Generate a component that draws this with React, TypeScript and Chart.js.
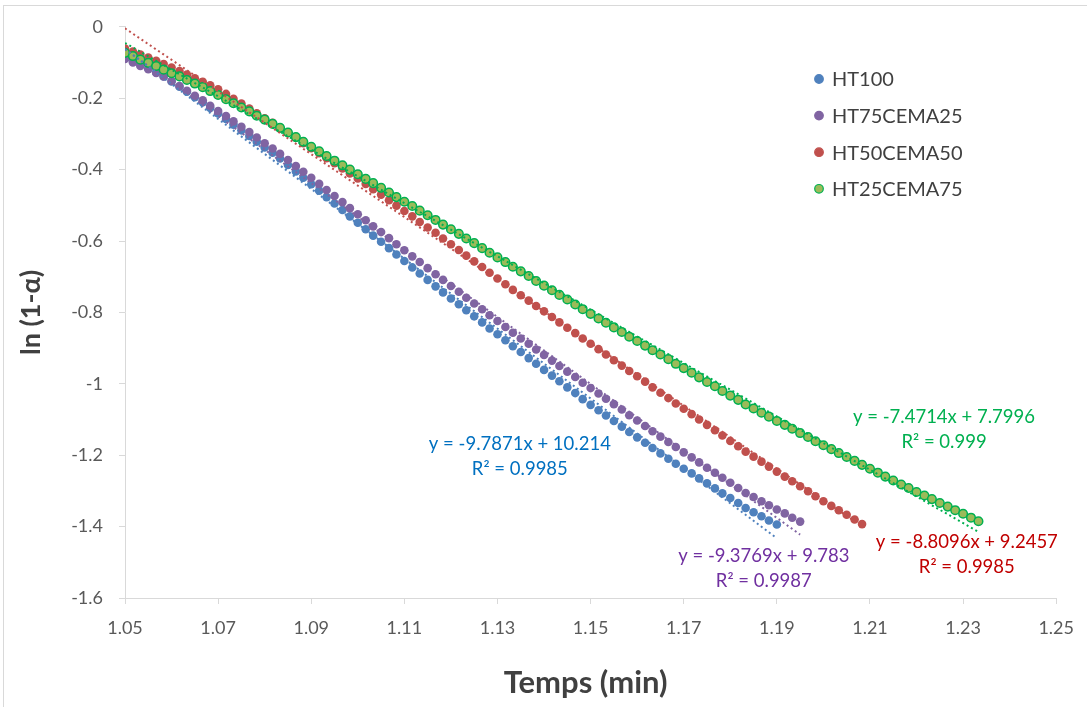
import React, { useEffect, useRef } from "react";
import { Chart, registerables } from "chart.js";

Chart.register(...registerables);

// ---------- DATA ----------
const TIME = [
  1.05, 1.0517, 1.0533, 1.055, 1.0567, 1.0583,
  1.06, 1.0617, 1.0633, 1.065, 1.0667, 1.0683,
  1.07, 1.0717, 1.0733, 1.075, 1.0767, 1.0783,
  1.08, 1.0817, 1.0833, 1.085, 1.0867, 1.0883,
  1.09, 1.0917, 1.0933, 1.095, 1.0967, 1.0983,
  1.1, 1.1017, 1.1033, 1.105, 1.1067, 1.1083,
  1.11, 1.1117, 1.1133, 1.115, 1.1167, 1.1183,
  1.12, 1.1217, 1.1233, 1.125, 1.1267, 1.1283,
  1.13, 1.1317, 1.1333, 1.135, 1.1367, 1.1383,
  1.14, 1.1417, 1.1433, 1.145, 1.1467, 1.1483,
  1.15, 1.1517, 1.1533, 1.155, 1.1567, 1.1583,
  1.16, 1.1617, 1.1633, 1.165, 1.1667, 1.1683,
  1.17, 1.1717, 1.1733, 1.175, 1.1767, 1.1783,
  1.18, 1.1817, 1.1833, 1.185, 1.1867, 1.1883,
  1.19, 1.1917, 1.1933, 1.195, 1.1967, 1.1983,
  1.2, 1.2017, 1.2033, 1.205, 1.2067, 1.2083,
  1.21, 1.2117, 1.2133, 1.215, 1.2167, 1.2183,
  1.22, 1.2217, 1.2233, 1.225, 1.2267, 1.2283,
  1.23, 1.2317, 1.2333,
];

const SERIES_NAMES = ["HT100", "HT75CEMA25", "HT50CEMA50", "HT25CEMA75"];

const HT100 = [
  -0.085, -0.096, -0.106, -0.117, -0.128, -0.139, -0.153, -0.168, -0.182, -0.197,
  -0.211, -0.227, -0.243, -0.258, -0.274, -0.290, -0.306, -0.322, -0.338, -0.353,
  -0.369, -0.387, -0.405, -0.423, -0.441, -0.459, -0.477, -0.495, -0.513, -0.531,
  -0.549, -0.567, -0.585, -0.602, -0.620, -0.638, -0.656, -0.674, -0.691, -0.709,
  -0.727, -0.744, -0.761, -0.777, -0.794, -0.811, -0.828, -0.845, -0.861, -0.878,
  -0.895, -0.911, -0.928, -0.944, -0.961, -0.977, -0.993, -1.010, -1.026, -1.043,
  -1.059, -1.074, -1.089, -1.104, -1.120, -1.135, -1.150, -1.165, -1.180, -1.195,
  -1.210, -1.224, -1.238, -1.251, -1.265, -1.279, -1.293, -1.307, -1.320, -1.334,
  -1.348, -1.360, -1.371, -1.383, -1.394,
];

const HT75CEMA25 = [
  -0.090, -0.100, -0.110, -0.119, -0.129, -0.139, -0.152, -0.166, -0.179, -0.193,
  -0.206, -0.221, -0.236, -0.250, -0.265, -0.280, -0.295, -0.310, -0.326, -0.341,
  -0.356, -0.373, -0.390, -0.406, -0.423, -0.440, -0.457, -0.474, -0.491, -0.508,
  -0.525, -0.542, -0.559, -0.575, -0.592, -0.609, -0.626, -0.643, -0.659, -0.676,
  -0.693, -0.709, -0.726, -0.742, -0.759, -0.775, -0.791, -0.808, -0.824, -0.841,
  -0.857, -0.873, -0.888, -0.904, -0.919, -0.935, -0.950, -0.966, -0.981, -0.997,
  -1.012, -1.027, -1.042, -1.057, -1.072, -1.088, -1.103, -1.118, -1.133, -1.148,
  -1.163, -1.177, -1.192, -1.206, -1.220, -1.235, -1.249, -1.263, -1.277, -1.292,
  -1.306, -1.317, -1.329, -1.340, -1.352, -1.363, -1.375, -1.386,
];

const HT50CEMA50 = [
  -0.061, -0.069, -0.078, -0.086, -0.095, -0.104, -0.114, -0.124, -0.134, -0.144,
  -0.154, -0.164, -0.175, -0.188, -0.202, -0.215, -0.229, -0.242, -0.256, -0.269,
  -0.283, -0.297, -0.311, -0.326, -0.340, -0.354, -0.368, -0.382, -0.397, -0.411,
  -0.425, -0.440, -0.455, -0.470, -0.486, -0.501, -0.516, -0.531, -0.547, -0.562,
  -0.577, -0.593, -0.609, -0.625, -0.641, -0.657, -0.673, -0.689, -0.705, -0.721,
  -0.737, -0.752, -0.767, -0.782, -0.797, -0.813, -0.828, -0.843, -0.858, -0.873,
  -0.888, -0.903, -0.918, -0.934, -0.949, -0.964, -0.979, -0.994, -1.010, -1.025,
  -1.040, -1.055, -1.070, -1.085, -1.100, -1.115, -1.130, -1.145, -1.160, -1.175,
  -1.190, -1.204, -1.218, -1.232, -1.246, -1.260, -1.273, -1.287, -1.301, -1.315,
  -1.329, -1.342, -1.354, -1.367, -1.380, -1.393,
];

const HT25CEMA75 = [
  -0.073, -0.082, -0.092, -0.101, -0.110, -0.120, -0.130, -0.139, -0.149, -0.159,
  -0.169, -0.180, -0.191, -0.203, -0.214, -0.226, -0.237, -0.249, -0.260, -0.272,
  -0.283, -0.296, -0.309, -0.322, -0.336, -0.349, -0.362, -0.375, -0.388, -0.400,
  -0.413, -0.426, -0.438, -0.451, -0.464, -0.477, -0.490, -0.502, -0.515, -0.528,
  -0.541, -0.554, -0.567, -0.580, -0.593, -0.606, -0.620, -0.633, -0.646, -0.659,
  -0.672, -0.685, -0.698, -0.712, -0.725, -0.738, -0.751, -0.764, -0.778, -0.791,
  -0.804, -0.817, -0.829, -0.842, -0.855, -0.868, -0.880, -0.893, -0.906, -0.918,
  -0.931, -0.944, -0.956, -0.969, -0.982, -0.995, -1.007, -1.020, -1.033, -1.045,
  -1.058, -1.069, -1.081, -1.092, -1.104, -1.115, -1.126, -1.138, -1.149, -1.161,
  -1.172, -1.183, -1.194, -1.205, -1.216, -1.227, -1.238, -1.249, -1.260, -1.271,
  -1.282, -1.292, -1.303, -1.313, -1.323, -1.334, -1.344, -1.354, -1.364, -1.375,
  -1.385,
];

// Linear trend lines (as printed on the chart)
const SLOPES = [-9.7871, -9.3769, -8.8096, -7.4714];
const INTERCEPTS = [10.214, 9.783, 9.2457, 7.7996];
const EQUATIONS = [
  "y = -9.7871x + 10.214",
  "y = -9.3769x + 9.783",
  "y = -8.8096x + 9.2457",
  "y = -7.4714x + 7.7996",
];
const R2_TEXT = ["R² = 0.9985", "R² = 0.9987", "R² = 0.9985", "R² = 0.999"];

const X_TICKS = [1.05, 1.07, 1.09, 1.11, 1.13, 1.15, 1.17, 1.19, 1.21, 1.23, 1.25];
const Y_TICKS = [0, -0.2, -0.4, -0.6, -0.8, -1, -1.2, -1.4, -1.6];

// ---------- STYLE ----------
const W = 1087;
const H = 707;
const FONT = "Lato, 'Open Sans', sans-serif";
const POINT_FILL = ["#4f81bd", "#8064a2", "#c0504d", "#9bbb59"];
const POINT_BORDER = ["#4f81bd", "#8064a2", "#c0504d", "#00b050"];
const TREND_COLOR = ["#4f81bd", "#8064a2", "#c0504d", "#00b050"];
const EQ_COLOR = ["#0070c0", "#7030a0", "#c00000", "#00b050"];
// equation label anchors (data coordinates of first line centre)
const EQ_POS = [
  { x: 1.1348, y: -1.1694 },
  { x: 1.1872, y: -1.4833 },
  { x: 1.2308, y: -1.4444 },
  { x: 1.2259, y: -1.0917 },
];

const SERIES = [HT100, HT75CEMA25, HT50CEMA50, HT25CEMA75];

const decorPlugin = {
  id: "decor",
  beforeDraw(chart: any) {
    const ctx = chart.ctx;
    ctx.save();
    ctx.fillStyle = "#ffffff";
    ctx.fillRect(0, 0, chart.width, chart.height);
    ctx.strokeStyle = "#d9d9d9";
    ctx.lineWidth = 1;
    ctx.strokeRect(3.5, 5.5, chart.width + 20, chart.height + 20);
    ctx.restore();
  },
  afterDraw(chart: any) {
    const ctx = chart.ctx;
    const xs = chart.scales.x;
    const ys = chart.scales.y;
    const area = chart.chartArea;
    ctx.save();
    // axis titles
    ctx.fillStyle = "#404040";
    ctx.textAlign = "center";
    ctx.textBaseline = "middle";
    ctx.font = `bold 31px ${FONT}`;
    ctx.fillText("Temps (min)", (area.left + area.right) / 2 - 5, 683);
    ctx.save();
    ctx.translate(31, (area.top + area.bottom) / 2);
    ctx.rotate(-Math.PI / 2);
    ctx.font = `bold 27px ${FONT}`;
    ctx.fillText("ln (1-α)", 0, 0);
    ctx.restore();

    // legend
    ctx.textAlign = "left";
    ctx.font = `20px ${FONT}`;
    SERIES_NAMES.forEach((name, k) => {
      const y = 79 + k * 36.6;
      ctx.beginPath();
      ctx.arc(819, y, 4.3, 0, Math.PI * 2);
      ctx.fillStyle = POINT_FILL[k];
      ctx.fill();
      ctx.lineWidth = 1.2;
      ctx.strokeStyle = POINT_BORDER[k];
      ctx.stroke();
      ctx.fillStyle = "#404040";
      ctx.fillText(name, 832, y + 1);
    });

    // equations
    ctx.textAlign = "center";
    ctx.font = `18.5px ${FONT}`;
    EQ_POS.forEach((p, k) => {
      const px = xs.getPixelForValue(p.x);
      const py = ys.getPixelForValue(p.y);
      ctx.fillStyle = EQ_COLOR[k];
      ctx.fillText(EQUATIONS[k], px, py);
      ctx.fillText(R2_TEXT[k], px, py + 25);
    });
    ctx.restore();
  },
};

export default function App() {
  const canvasRef = useRef<HTMLCanvasElement | null>(null);

  useEffect(() => {
    document.body.style.margin = "0";
    const canvas = canvasRef.current;
    if (!canvas) return;

    const scatterSets = SERIES.map((vals, k) => ({
      label: SERIES_NAMES[k],
      data: vals.map((y, i) => ({ x: TIME[i], y })),
      showLine: false,
      pointRadius: 4.3,
      pointHoverRadius: 4.3,
      pointBackgroundColor: POINT_FILL[k],
      pointBorderColor: POINT_BORDER[k],
      pointBorderWidth: k === 3 ? 1.5 : 0,
      order: 4 - k + 1,
    }));

    const trendSets = SERIES.map((vals, k) => {
      const x0 = TIME[0];
      const x1 = TIME[vals.length - 1];
      return {
        label: "trend " + SERIES_NAMES[k],
        data: [
          { x: x0, y: SLOPES[k] * x0 + INTERCEPTS[k] },
          { x: x1, y: SLOPES[k] * x1 + INTERCEPTS[k] },
        ],
        showLine: true,
        borderColor: TREND_COLOR[k],
        borderWidth: 2,
        borderDash: [2, 3],
        pointRadius: 0,
        pointHoverRadius: 0,
        fill: false,
        order: 0,
      };
    });

    const chart = new Chart(canvas, {
      type: "scatter",
      data: { datasets: [...scatterSets, ...trendSets] as any },
      options: {
        animation: false,
        responsive: false,
        devicePixelRatio: 1,
        layout: { padding: { top: 22, right: 23, left: 0, bottom: 0 } },
        plugins: {
          legend: { display: false },
          tooltip: { enabled: false },
          title: { display: false },
        },
        scales: {
          x: {
            type: "linear",
            min: 1.05,
            max: 1.25,
            afterBuildTicks: (s: any) => {
              s.ticks = X_TICKS.map((v) => ({ value: v }));
            },
            afterFit: (s: any) => {
              s.height = H - 598;
            },
            ticks: {
              callback: (v: any) => Number(v).toFixed(2),
              font: { family: FONT, size: 18 },
              color: "#595959",
              padding: 13,
              maxRotation: 0,
              autoSkip: false,
            },
            grid: {
              drawOnChartArea: false,
              drawTicks: true,
              tickLength: 6,
              color: "#d9d9d9",
            },
            border: { display: true, color: "#d9d9d9", width: 1 },
          },
          y: {
            type: "linear",
            min: -1.6,
            max: 0,
            afterBuildTicks: (s: any) => {
              s.ticks = Y_TICKS.map((v) => ({ value: v }));
            },
            afterFit: (s: any) => {
              s.width = 125;
            },
            ticks: {
              callback: (v: any) => String(Math.round(Number(v) * 10) / 10),
              font: { family: FONT, size: 18 },
              color: "#595959",
              padding: 16,
              autoSkip: false,
            },
            grid: {
              drawOnChartArea: false,
              drawTicks: true,
              tickLength: 6,
              color: "#d9d9d9",
            },
            border: { display: true, color: "#d9d9d9", width: 1 },
          },
        },
      },
      plugins: [decorPlugin],
    });

    return () => chart.destroy();
  }, []);

  return (
    <div style={{ width: W, height: H }}>
      <canvas ref={canvasRef} width={W} height={H} style={{ display: "block" }} />
    </div>
  );
}
